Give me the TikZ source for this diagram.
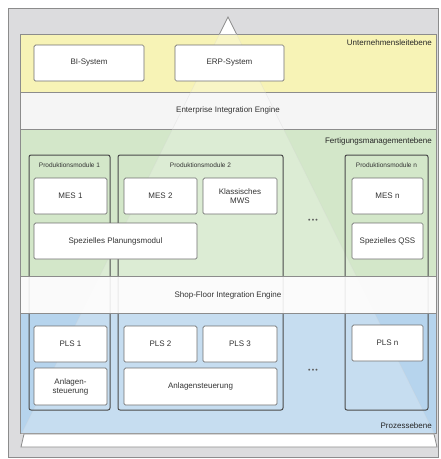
\documentclass[tikz,border=0pt]{standalone}
\usepackage{fontspec}
\setmainfont{Liberation Sans}
\definecolor{bgray}{HTML}{DCDCDE}
\definecolor{byel}{HTML}{F7F3B6}
\definecolor{bgreen}{HTML}{D3E7C9}
\definecolor{bblue}{HTML}{B6D4ED}
\definecolor{bline}{HTML}{8C8C8C}
\definecolor{cline}{HTML}{4A4A4A}
\definecolor{txt}{HTML}{333333}
\begin{document}
\begin{tikzpicture}[x=1pt,y=-1pt,
  band/.style={draw=bline, line width=0.9pt},
  colbox/.style={draw=cline, line width=1pt, rounded corners=2pt, inner sep=0pt, fill=none},
  box/.style={draw=bline!80!black, line width=0.7pt, fill=white, rounded corners=1.5pt, inner sep=1pt,
     text=txt, font=\fontsize{8}{9}\selectfont, align=center},
  lbl/.style={text=txt, font=\fontsize{8}{9}\selectfont, inner sep=0pt},
  lvl/.style={text=black!85, font=\fontsize{8}{9}\selectfont, inner sep=0pt, anchor=east},
  mod/.style={text=txt, font=\fontsize{6.5}{7.5}\selectfont, inner sep=0pt},
  dots/.style={text=txt!80, font=\fontsize{7}{8}\selectfont, inner sep=0pt}]
\useasboundingbox (0,0) rectangle (441,459);
% background
\draw[fill=bgray, draw=bline] (8,8) rectangle (438,457);
% bands
\draw[band, fill=byel] (20,34) rectangle (436,92);
\draw[band, fill=white!96!black] (20,92) rectangle (436,129);
\draw[band, fill=bgreen] (20,129) rectangle (436,276);
\draw[band, fill=bblue] (20,313) rectangle (436,433);
% pyramid overlay
\fill[white, opacity=0.22] (228,17) -- (435,435) -- (21,435) -- cycle;
\draw[white!60!bline, opacity=0.3, line width=0.6pt] (228,17) -- (435,435) (228,17) -- (21,435);
\draw[fill=white, draw=bline, line width=0.8pt] (219.5,34) -- (228,17) -- (236.5,34);
\draw[fill=white, draw=bline, line width=0.8pt] (24,434) -- (434,434) -- (437,447) -- (21,447) -- cycle;
% production module columns
\node[colbox, minimum width=81, minimum height=255] (c1) at (69.5,282.5) {};
\node[colbox, minimum width=165, minimum height=255] (c2) at (200.5,282.5) {};
\node[colbox, minimum width=83, minimum height=255] (cn) at (386.5,282.5) {};
% shop floor band
\draw[band, fill=white, fill opacity=0.88] (20,276) rectangle (436,313);
% level labels
\node[lvl] (l1) at (432,43) {Unternehmensleitebene};
\node[lvl] (l2) at (432,141) {Fertigungsmanagementebene};
\node[lvl] (l3) at (432,426) {Prozessebene};
\node[lbl] (eie) at (228,110) {Enterprise Integration Engine};
\node[lbl] (sie) at (228,295) {Shop-Floor Integration Engine};
% top systems
\node[box, minimum width=110, minimum height=36] (bi) at (89,63) {BI-System};
\node[box, minimum width=109, minimum height=36] (erp) at (229.5,63) {ERP-System};
% module labels
\node[mod] (m1) at (69.5,165) {Produktionsmodule 1};
\node[mod] (m2) at (200.5,165) {Produktionsmodule 2};
\node[mod] (mn) at (386.5,165) {Produktionsmodule n};
% MES level
\node[box, minimum width=73, minimum height=36] (mes1) at (70.5,196) {MES 1};
\node[box, minimum width=73, minimum height=36] (mes2) at (160.5,196) {MES 2};
\node[box, minimum width=74, minimum height=36] (mws) at (240,196) {Klassisches\\MWS};
\node[box, minimum width=71, minimum height=36] (mesn) at (387.5,196) {MES n};
\node[box, minimum width=163, minimum height=36] (plan) at (115.5,241) {Spezielles Planungsmodul};
\node[box, minimum width=71, minimum height=36] (qss) at (387.5,241) {Spezielles QSS};
\node[dots] (d1) at (313,221) {\textbullet\,\textbullet\,\textbullet};
% process level
\node[box, minimum width=73, minimum height=36] (pls1) at (70.5,344) {PLS 1};
\node[box, minimum width=73, minimum height=36] (pls2) at (160.5,344) {PLS 2};
\node[box, minimum width=74, minimum height=36] (pls3) at (240,344) {PLS 3};
\node[box, minimum width=71, minimum height=36] (plsn) at (387.5,343) {PLS n};
\node[box, minimum width=73, minimum height=37] (an1) at (70.5,386.5) {Anlagen-\\steuerung};
\node[box, minimum width=153, minimum height=37] (an2) at (200.5,386.5) {Anlagensteuerung};
\node[dots] (d2) at (313,371) {\textbullet\,\textbullet\,\textbullet};
\end{tikzpicture}
\end{document}
